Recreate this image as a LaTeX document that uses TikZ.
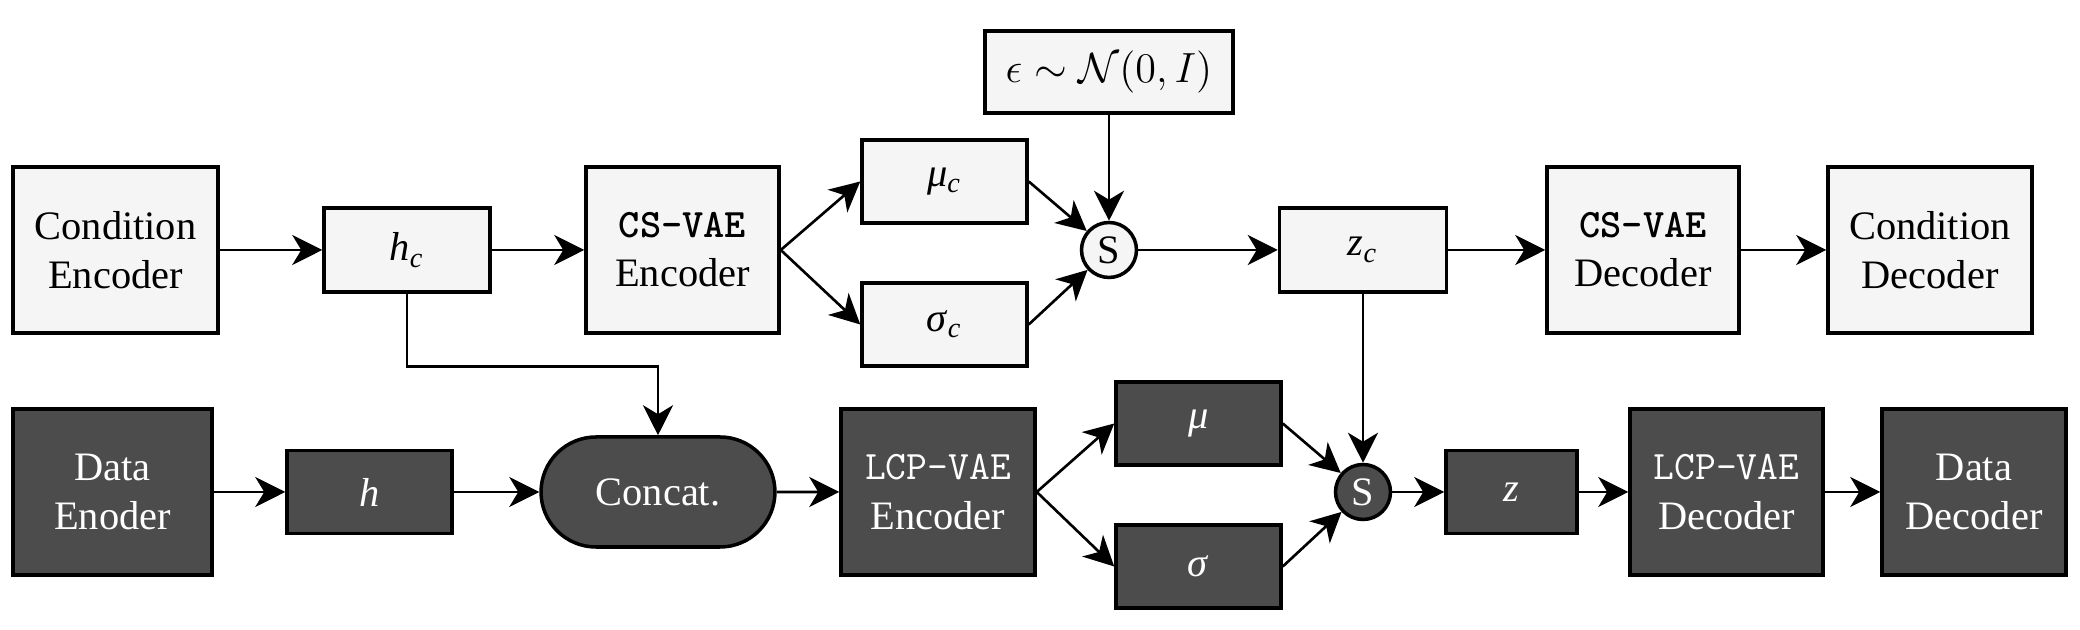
\documentclass[tikz,border=0pt]{standalone}
\usepackage{fontspec}
\setmainfont{Liberation Serif}
\usepackage{amsmath,amssymb}
\usepackage{tikz}
\usetikzlibrary{arrows.meta,positioning,shapes.misc}
\newcommand{\vaevar}[2]{\textit{#1}\textsubscript{\textit{#2}}}
\tikzset{
  vae-light/.style={draw=black, fill=black!4, line width=1pt, align=center,
    inner sep=2pt, font=\fontsize{11.5}{14}\selectfont},
  vae-dark/.style={vae-light, fill=black!70, text=white},
  vae-sum/.style={circle, draw=black, line width=1pt, minimum size=0.55cm,
    inner sep=0pt, font=\fontsize{11.5}{14}\selectfont},
  vae-arrow/.style={-{Stealth[length=0.3cm, width=0.3cm, inset=0.09cm]}, line width=0.75pt}
}

\begin{document}
\begin{tikzpicture}
  \useasboundingbox (0,0) rectangle (20.8,-6.3);
  % condition branch (top row)
  \node[vae-light, minimum width=2.05cm, minimum height=1.66cm] (cenc) at (1.155,-2.50) {Condition\\Encoder};
  \node[vae-light, minimum width=1.66cm, minimum height=0.84cm] (hc) at (4.07,-2.50) {\vaevar{h}{c}};
  \node[vae-light, minimum width=1.93cm, minimum height=1.66cm] (csenc) at (6.825,-2.50) {\texttt{\textbf{CS-VAE}}\\Encoder};
  \node[vae-light, minimum width=1.65cm, minimum height=0.83cm] (muc) at (9.445,-1.815) {\vaevar{μ}{c}};
  \node[vae-light, minimum width=1.65cm, minimum height=0.83cm] (sigc) at (9.445,-3.245) {\vaevar{σ}{c}};
  \node[vae-sum, fill=black!4] (s1) at (11.09,-2.50) {S};
  \node[vae-light, minimum width=2.48cm, minimum height=0.82cm] (eps) at (11.09,-0.72) {$\epsilon\sim\mathcal{N}(0,I)$};
  \node[vae-light, minimum width=1.67cm, minimum height=0.84cm] (zc) at (13.63,-2.50) {\vaevar{z}{c}};
  \node[vae-light, minimum width=1.92cm, minimum height=1.66cm] (csdec) at (16.43,-2.50) {\texttt{\textbf{CS-VAE}}\\Decoder};
  \node[vae-light, minimum width=2.04cm, minimum height=1.66cm] (cdec) at (19.30,-2.50) {Condition\\Decoder};
  \draw[vae-arrow] (cenc) -- (hc);
  \draw[vae-arrow] (hc) -- (csenc);
  \draw[vae-arrow] (csenc.east) -- (muc.west);
  \draw[vae-arrow] (csenc.east) -- (sigc.west);
  \draw[vae-arrow] (muc.east) -- (s1);
  \draw[vae-arrow] (sigc.east) -- (s1);
  \draw[vae-arrow] (eps) -- (s1);
  \draw[vae-arrow] (s1) -- (zc);
  \draw[vae-arrow] (zc) -- (csdec);
  \draw[vae-arrow] (csdec) -- (cdec);
  % data branch (bottom row)
  \node[vae-dark, minimum width=1.99cm, minimum height=1.66cm] (denc) at (1.125,-4.92) {Data\\Enoder};
  \node[vae-dark, minimum width=1.65cm, minimum height=0.83cm] (h) at (3.695,-4.92) {\textit{h}};
  \node[vae-dark, rounded rectangle, minimum width=2.48cm, minimum height=1.10cm] (concat) at (6.58,-4.92) {Concat.};
  \node[vae-dark, minimum width=1.94cm, minimum height=1.66cm] (lcpenc) at (9.38,-4.92) {\texttt{LCP-VAE}\\Encoder};
  \node[vae-dark, minimum width=1.65cm, minimum height=0.83cm] (mu) at (11.985,-4.235) {\textit{μ}};
  \node[vae-dark, minimum width=1.65cm, minimum height=0.83cm] (sig) at (11.985,-5.665) {\textit{σ}};
  \node[vae-sum, fill=black!70, text=white] (s2) at (13.63,-4.92) {S};
  \node[vae-dark, minimum width=1.31cm, minimum height=0.83cm] (z) at (15.115,-4.92) {\textit{z}};
  \node[vae-dark, minimum width=1.93cm, minimum height=1.66cm] (lcpdec) at (17.265,-4.92) {\texttt{LCP-VAE}\\Decoder};
  \node[vae-dark, minimum width=1.84cm, minimum height=1.66cm] (ddec) at (19.74,-4.92) {Data\\Decoder};
  \draw[vae-arrow] (denc) -- (h);
  \draw[vae-arrow] (h) -- (concat);
  \draw[vae-arrow] (concat) -- (lcpenc);
  \draw[vae-arrow] (lcpenc.east) -- (mu.west);
  \draw[vae-arrow] (lcpenc.east) -- (sig.west);
  \draw[vae-arrow] (mu.east) -- (s2);
  \draw[vae-arrow] (sig.east) -- (s2);
  \draw[vae-arrow] (s2) -- (z);
  \draw[vae-arrow] (z) -- (lcpdec);
  \draw[vae-arrow] (lcpdec) -- (ddec);
  % links between the two rows
  \draw[vae-arrow] (hc.south) -- ++(0,-0.73) -| (concat.north);
  \draw[vae-arrow] (zc.south) -- (s2.north);
\end{tikzpicture}
\end{document}
